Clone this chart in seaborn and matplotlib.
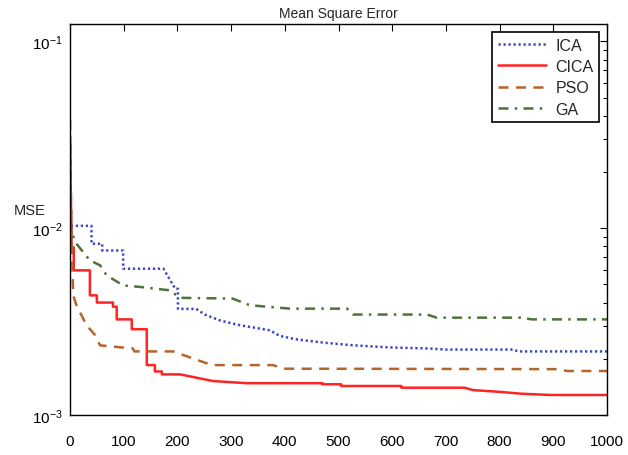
import numpy as np
import pandas as pd
import matplotlib
matplotlib.use("Agg")
import matplotlib.pyplot as plt
from matplotlib.ticker import LogLocator, NullFormatter, FixedLocator
import seaborn as sns

# ---- data ----
ica_x = [0, 2, 40, 40, 60, 60, 99, 99, 174, 196, 201, 201, 235, 251, 279, 310, 372, 391, 422, 472, 528, 596, 670, 700, 825, 835, 1000]
ica_y = [0.018, 0.0103, 0.0103, 0.00826, 0.00826, 0.0076, 0.0076, 0.00607, 0.00607, 0.00474, 0.00474, 0.0037,
         0.0037, 0.00345, 0.00321, 0.00305, 0.00284, 0.00265, 0.00254, 0.00244, 0.00236, 0.0023, 0.00227,
         0.00224, 0.00224, 0.00219, 0.00219]

cica_x = [0, 3, 7, 7, 37, 37, 50, 50, 80, 80, 87, 87, 115, 115, 143, 143, 158, 158, 171, 171, 205, 266, 329,
          470, 470, 505, 505, 617, 617, 735, 750, 800, 840, 895, 1000]
cica_y = [0.03, 0.0079, 0.0079, 0.00595, 0.00595, 0.00437, 0.00437, 0.0040, 0.0040, 0.0038, 0.0038, 0.00325,
          0.00325, 0.00288, 0.00288, 0.00185, 0.00185, 0.00171, 0.00171, 0.00165, 0.00165, 0.00152, 0.00148,
          0.00148, 0.00146, 0.00146, 0.00143, 0.00143, 0.0014, 0.0014, 0.00136, 0.00133, 0.0013, 0.00128, 0.00128]

pso_x = [0, 3, 6, 12, 31, 47, 56, 117, 120, 192, 218, 255, 262, 378, 397, 912, 925, 1000]
pso_y = [0.03, 0.0085, 0.00437, 0.00387, 0.00302, 0.00267, 0.00236, 0.00227, 0.00219, 0.00219, 0.00206,
         0.00189, 0.00185, 0.00185, 0.00177, 0.00176, 0.00172, 0.00172]

ga_x = [0, 2, 12, 37, 56, 68, 99, 130, 186, 205, 303, 335, 410, 516, 527, 665, 683, 840, 860, 1000]
ga_y = [0.038, 0.00958, 0.00826, 0.00673, 0.00633, 0.0056, 0.00494, 0.00485, 0.00465, 0.00424, 0.0042,
        0.00387, 0.00371, 0.00371, 0.00345, 0.00345, 0.00332, 0.00332, 0.00325, 0.00325]

labels = ["ICA", "CICA", "PSO", "GA"]
x_ticks = [0, 100, 200, 300, 400, 500, 600, 700, 800, 900, 1000]

series = {"ICA": (ica_x, ica_y), "CICA": (cica_x, cica_y), "PSO": (pso_x, pso_y), "GA": (ga_x, ga_y)}
frames = []
for name, (xs, ys) in series.items():
    frames.append(pd.DataFrame({"iter": xs, "mse": ys, "alg": name}))
df = pd.concat(frames, ignore_index=True)

# ---- style ----
sns.set_theme(style="white")
plt.rcParams["font.family"] = ["Liberation Sans", "DejaVu Sans"]
plt.rcParams["mathtext.fontset"] = "custom"
plt.rcParams["mathtext.rm"] = "Liberation Sans"
plt.rcParams["mathtext.it"] = "Liberation Sans"

colors = {"ICA": "#3a46c2", "CICA": "#ff2424", "PSO": "#b5642a", "GA": "#52703a"}
styles = {"ICA": (0, (0.9, 1.1)), "CICA": "-", "PSO": (0, (4, 3)), "GA": (0, (4, 2.5, 1, 2.5))}

fig = plt.figure(figsize=(6.28, 4.56), dpi=100)
ax = fig.add_axes([70 / 628, 40 / 456, 537 / 628, 391 / 456])

for name in labels:
    sub = df[df["alg"] == name]
    sns.lineplot(data=sub, x="iter", y="mse", ax=ax, estimator=None, sort=False,
                 color=colors[name], linestyle=styles[name], linewidth=1.8, label=name)

ax.set_yscale("log")
ax.set_xlim(0, 1000)
ax.set_ylim(1e-3, 0.124)
ax.xaxis.set_major_locator(FixedLocator(x_ticks))
ax.set_xticklabels([str(t) for t in x_ticks])
ax.yaxis.set_major_locator(LogLocator(base=10, numticks=10))
ax.yaxis.set_minor_locator(LogLocator(base=10, subs=np.arange(2, 10), numticks=20))
ax.yaxis.set_minor_formatter(NullFormatter())

ax.tick_params(axis="both", which="both", direction="in", top=True, right=True,
               labelsize=11, colors="black")
ax.tick_params(axis="both", which="major", length=5, width=0.8)
ax.tick_params(axis="x", which="major", pad=14)
ax.tick_params(axis="y", which="major", pad=5)
ax.tick_params(axis="y", which="minor", length=3, width=0.8)
for sp in ax.spines.values():
    sp.set_visible(True)
    sp.set_color("black")
    sp.set_linewidth(1.0)

ax.set_title("Mean Square Error", fontsize=10, pad=5)
ax.set_xlabel("")
ax.set_ylabel("MSE", rotation=0, fontsize=10.5, labelpad=0, ha="center", va="center")
ax.yaxis.set_label_coords(-0.075, 0.525)

leg = ax.legend(loc="upper right", fontsize=11.5, frameon=True, fancybox=False, handlelength=3.0,
                borderaxespad=0.5, labelspacing=0.4, handletextpad=0.6, borderpad=0.35)
leg.get_frame().set_edgecolor("black")
leg.get_frame().set_linewidth(1.2)
leg.get_frame().set_alpha(1)

fig.savefig("out.png", dpi=100, facecolor="white")
